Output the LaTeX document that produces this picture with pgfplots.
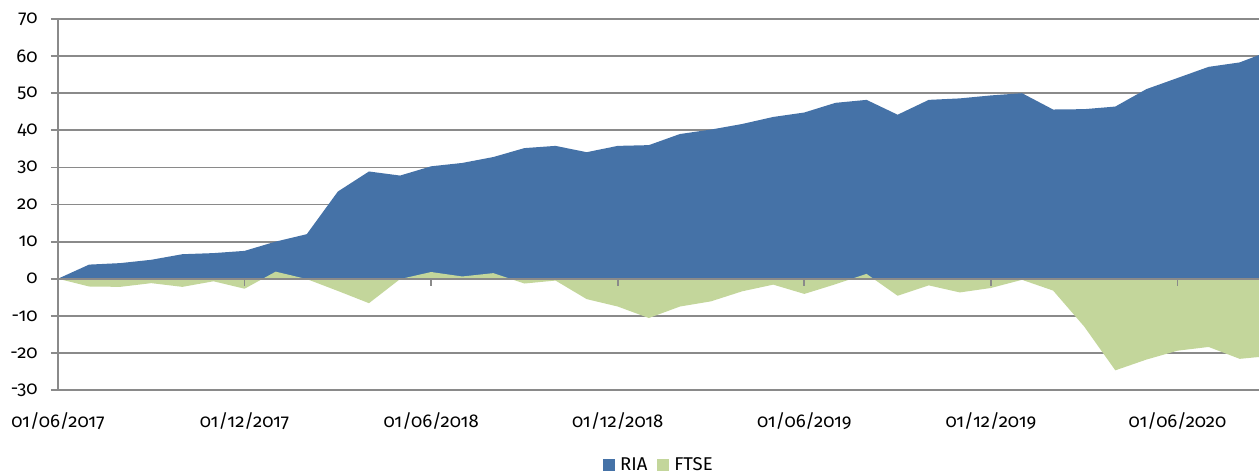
\documentclass[border=0pt]{standalone}
\usepackage{fontspec}
\setmainfont{Fira Sans}[Numbers=OldStyle]
\usepackage{pgfplots}
\usepackage{pgfplotstable}
\pgfplotsset{compat=1.18}
\definecolor{riablue}{HTML}{4572A7}
\definecolor{ftsegreen}{HTML}{C3D69B}
\definecolor{gridgray}{HTML}{8A8A8A}

\pgfplotstableread{
x ria ftse
0 0 0
1 3.8 -2.1
2 4.2 -2.2
3 5.1 -1.2
4 6.6 -2.2
5 6.9 -0.7
6 7.5 -2.7
7 10.0 1.9
8 12.0 -0.1
9 23.5 -3.3
10 28.9 -6.6
11 27.8 -0.1
12 30.3 1.8
13 31.2 0.6
14 32.8 1.5
15 35.2 -1.3
16 35.8 -0.5
17 34.1 -5.5
18 35.8 -7.5
19 36.0 -10.6
20 39.0 -7.5
21 40.2 -6.1
22 41.7 -3.4
23 43.6 -1.6
24 44.8 -4.1
25 47.4 -1.5
26 48.2 1.3
27 44.2 -4.6
28 48.2 -1.8
29 48.6 -3.7
30 49.4 -2.5
31 50.0 -0.3
32 45.6 -3.2
33 45.7 -12.9
34 46.4 -24.7
35 51.1 -21.8
36 54.1 -19.4
37 57.1 -18.4
38 58.3 -21.6
39 61.5 -20.8
}\data

\begin{document}
\fontsize{18.5}{22}\selectfont
\begin{tikzpicture}[x=1pt,y=1pt]
\path[use as bounding box] (0,0) rectangle (1259,475);
\begin{axis}[
  at={(58pt,85pt)}, anchor=south west,
  scale only axis, width=1201pt, height=371pt,
  xmin=0, xmax=38.62, ymin=-30, ymax=70,
  axis x line*=bottom, x axis line style={draw=none},
  axis y line*=left, y axis line style={gridgray, line width=1.8pt},
  xtick={0,6,12,18,24,30,36},
  xticklabels={01/06/2017,01/12/2017,01/06/2018,01/12/2018,01/06/2019,01/12/2019,01/06/2020},
  x tick style={draw=none},
  xticklabel style={yshift=-9pt},
  ytick={-30,-20,-10,0,10,20,30,40,50,60,70},
  yticklabels={-30,-20,-10,0,10,20,30,40,50,60,70},
  y tick style={gridgray, line width=1.8pt},
  tick align=outside, major tick length=7pt,
  yticklabel style={xshift=-7pt},
  ymajorgrids, grid style={gridgray, line width=1.8pt},
  legend style={at={(0.497,-0.203)}, anchor=center, draw=none, fill=none,
    legend columns=2},
  legend image code/.code={%
    \path[draw=none, fill=none] (-8pt,0) -- (15pt,0);
    \path[#1] (0pt,-6pt) rectangle (12pt,6pt);},
]
\addplot[fill=riablue, draw=none] table[x=x,y=ria]{\data} \closedcycle;
\addlegendentry{RIA}
\addplot[fill=ftsegreen, draw=none] table[x=x,y=ftse]{\data} \closedcycle;
\addlegendentry{FTSE}
\draw[gridgray, line width=1.8pt] (axis cs:0,0) -- (axis cs:38.62,0);
\draw[gridgray, line width=1.8pt] (axis cs:6,0) -- ([yshift=-7pt]axis cs:6,0);
\draw[gridgray, line width=1.8pt] (axis cs:12,0) -- ([yshift=-7pt]axis cs:12,0);
\draw[gridgray, line width=1.8pt] (axis cs:18,0) -- ([yshift=-7pt]axis cs:18,0);
\draw[gridgray, line width=1.8pt] (axis cs:24,0) -- ([yshift=-7pt]axis cs:24,0);
\draw[gridgray, line width=1.8pt] (axis cs:30,0) -- ([yshift=-7pt]axis cs:30,0);
\draw[gridgray, line width=1.8pt] (axis cs:36,0) -- ([yshift=-7pt]axis cs:36,0);
\end{axis}
\end{tikzpicture}
\end{document}
